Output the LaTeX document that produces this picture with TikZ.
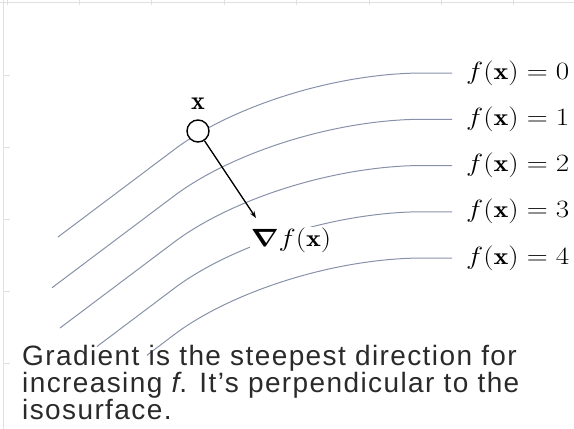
\documentclass[tikz,border=0pt]{standalone}
\usepackage{amsmath}
\usepackage{graphicx}
\usepackage{fontspec}
\newfontfamily\notefont[LetterSpace=5]{Liberation Sans}
\usetikzlibrary{arrows.meta, positioning}
\definecolor{IsoGrey}{RGB}{135,146,170}
\definecolor{SheetGrey}{RGB}{224,224,224}
\definecolor{NoteInk}{RGB}{42,42,42}
\newcommand{\widemath}[1]{\scalebox{1.17}[1]{#1}}

\begin{document}
\begin{tikzpicture}[x=1pt, y=-1pt,
    every node/.style={inner sep=0pt},
    iso/.style={draw=IsoGrey, line width=1pt},
    level/.style={anchor=west, inner xsep=14pt, font=\fontsize{24}{28}\selectfont},
    point/.style={circle, draw, line width=1.4pt, minimum size=22pt, fill=white},
    grad/.style={-{Stealth[length=7pt, width=5pt]}, line width=1.3pt},
    note/.style={anchor=north west, align=left, text=NoteInk, font=\notefont\fontsize{28}{27}\selectfont},
    sheet/.style={draw=SheetGrey, line width=0.8pt}
  ]
    \useasboundingbox (0,0) rectangle (574,429);
    % sheet edges
    \draw[sheet] (0,2) -- (574,2);
    \draw[sheet] (3,0) -- (3,429);
    \foreach \i in {0,...,7} \draw[sheet] (7+72.4*\i,0) -- ++(0,5);
    \foreach \j in {1,...,5} \draw[sheet] (3,3+72*\j) -- ++(7,0);

    % level sets
    \foreach \k/\sx in {0/58, 1/52, 2/60, 3/97, 4/147} {
      \node[level] (lvl\k) at (452,{73+46.25*\k}) {\widemath{$f(\mathbf{x}) = \k$}};
      \begin{scope}[shift={(0,46.25*\k)}]
        \draw[iso] (\sx,{237-0.75*(\sx-58)}) -- (175,149)
          .. controls (230,108) and (330,74) .. (420,73) -- (lvl\k.west);
      \end{scope}
    }

    \node[point] (pt) at (198,131) {};
    \node[above=10pt of pt, font=\fontsize{26}{28}\selectfont] (xlbl) {$\mathbf{x}$};
    \coordinate (tip) at (256,218);
    \draw[grad] (pt) -- (tip);
    \node[fill=white, inner sep=1pt, font=\fontsize{24}{28}\selectfont] (gradlbl) at (291,240) {\widemath{$\boldsymbol{\nabla} f(\mathbf{x})$}};

    \node[note] (note) at (22,345) {Gradient is the steepest direction for\\increasing \textit{f}. It’s perpendicular to the\\isosurface.};
  \end{tikzpicture}
\end{document}
